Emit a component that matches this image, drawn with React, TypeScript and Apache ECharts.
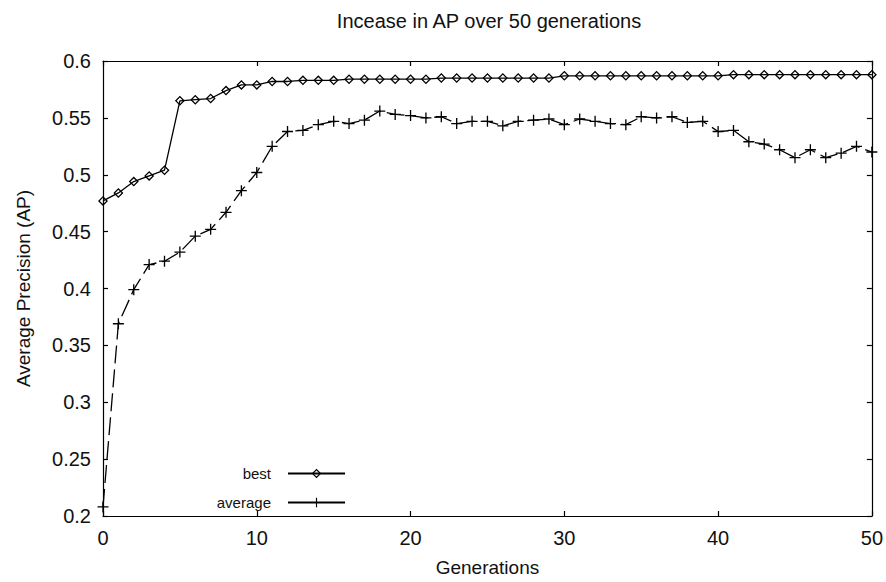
import React, { useEffect, useRef } from "react";
import * as echarts from "echarts";

const generations: number[] = Array.from({ length: 51 }, (_, i) => i);
const bestValues: number[] = [
  0.477, 0.484, 0.494, 0.499, 0.504, 0.565, 0.566, 0.567, 0.574, 0.579, 0.579,
  0.582, 0.582, 0.583, 0.583, 0.583, 0.584, 0.584, 0.584, 0.584, 0.584,
  0.584, 0.585, 0.585, 0.585, 0.585, 0.585, 0.585, 0.585, 0.585, 0.587,
  0.587, 0.587, 0.587, 0.587, 0.587, 0.587, 0.587, 0.587, 0.587, 0.587,
  0.588, 0.588, 0.588, 0.588, 0.588, 0.588, 0.588, 0.588, 0.588, 0.588,
];
const averageValues: number[] = [
  0.208, 0.369, 0.399, 0.421, 0.424, 0.432, 0.446, 0.452, 0.467, 0.486, 0.502,
  0.525, 0.538, 0.539, 0.544, 0.547, 0.545, 0.548, 0.556, 0.553, 0.552,
  0.550, 0.551, 0.545, 0.547, 0.547, 0.543, 0.547, 0.548, 0.549, 0.544,
  0.549, 0.547, 0.545, 0.544, 0.551, 0.550, 0.551, 0.546, 0.547, 0.538,
  0.539, 0.529, 0.527, 0.522, 0.515, 0.522, 0.515, 0.519, 0.525, 0.520,
];
const seriesNames: string[] = ["best", "average"];
const titleText = "Incease in AP over 50 generations";
const xAxisName = "Generations";
const yAxisName = "Average Precision (AP)";

const FONT = "'Liberation Sans', Arial, Helvetica, sans-serif";
const DIAMOND = "path://M5 0 L10 5 L5 10 L0 5 Z M5 1.8 L1.8 5 L5 8.2 L8.2 5 Z";
const CROSS = "path://M4.4 0 H5.6 V4.4 H10 V5.6 H5.6 V10 H4.4 V5.6 H0 V4.4 H4.4 Z";

export default function App() {
  const ref = useRef<HTMLDivElement>(null);
  useEffect(() => {
    if (!ref.current) return;
    const chart = echarts.init(ref.current, undefined, { renderer: "svg" });
    const axisCommon = {
      type: "value" as const,
      axisLine: { show: true, onZero: false, lineStyle: { color: "#000", width: 1.2 } },
      axisTick: { show: true, inside: true, length: 5, lineStyle: { color: "#000", width: 1.2 } },
      splitLine: { show: false },
    };
    chart.setOption({
      animation: false,
      backgroundColor: "#fff",
      grid: { left: 103, right: 11, top: 61, bottom: 66, containLabel: false },
      graphic: [
        {
          type: "text",
          x: 489,
          y: 21,
          style: {
            text: titleText,
            font: `20px ${FONT}`,
            fill: "#111",
            textAlign: "center",
            textVerticalAlign: "middle",
          },
        },
      ],
      legend: {
        orient: "vertical",
        align: "right",
        right: 540,
        top: 466,
        padding: 0,
        itemWidth: 57,
        itemHeight: 12,
        itemGap: 14,
        selectedMode: false,
        textStyle: { fontFamily: FONT, fontSize: 15, color: "#111", padding: [0, 12, 0, 0] },
        data: [
          { name: seriesNames[0] },
          { name: seriesNames[1], lineStyle: { type: "solid" } },
        ],
      },
      xAxis: [
        {
          ...axisCommon,
          position: "bottom",
          min: 0,
          max: 50,
          interval: 10,
          name: xAxisName,
          nameLocation: "middle",
          nameGap: 42,
          nameTextStyle: { fontFamily: FONT, fontSize: 19, color: "#111" },
          axisLabel: { fontFamily: FONT, fontSize: 20, color: "#111", margin: 12 },
        },
        {
          ...axisCommon,
          position: "top",
          min: 0,
          max: 50,
          interval: 10,
          axisLabel: { show: false },
        },
      ],
      yAxis: [
        {
          ...axisCommon,
          position: "left",
          min: 0.2,
          max: 0.6,
          interval: 0.05,
          name: yAxisName,
          nameLocation: "middle",
          nameGap: 70,
          nameTextStyle: { fontFamily: FONT, fontSize: 19, color: "#111" },
          axisLabel: { fontFamily: FONT, fontSize: 20, color: "#111", margin: 12 },
        },
        {
          ...axisCommon,
          position: "right",
          min: 0.2,
          max: 0.6,
          interval: 0.05,
          axisLabel: { show: false },
        },
      ],
      series: [
        {
          name: seriesNames[0],
          type: "line",
          xAxisIndex: 0,
          yAxisIndex: 0,
          data: generations.map((g, i) => [g, bestValues[i]]),
          symbol: DIAMOND,
          symbolSize: 10,
          showAllSymbol: true,
          lineStyle: { color: "#000", width: 1.3, type: "solid" },
          itemStyle: { color: "#000", borderWidth: 0 },
        },
        {
          name: seriesNames[1],
          type: "line",
          xAxisIndex: 0,
          yAxisIndex: 0,
          data: generations.map((g, i) => [g, averageValues[i]]),
          symbol: CROSS,
          symbolSize: 11,
          showAllSymbol: true,
          lineStyle: { color: "#000", width: 1.3, type: [18, 6] },
          itemStyle: { color: "#000", borderWidth: 0 },
        },
      ],
    });
    return () => chart.dispose();
  }, []);
  return <div ref={ref} style={{ width: 886, height: 582, position: "absolute", left: 0, top: 0 }} />;
}
